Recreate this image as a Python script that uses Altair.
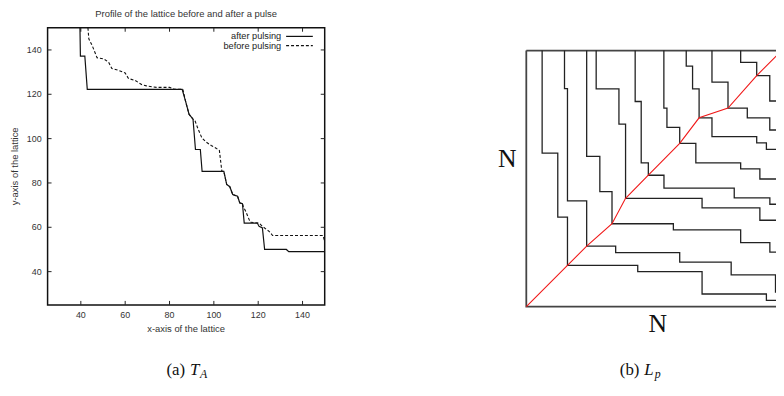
import altair as alt
import pandas as pd

# ---------------- Panel (a): profile of the lattice ----------------
after_x = [39.6, 39.8, 41.8, 42.9, 85.7, 87.2, 88.8, 90.6, 91.7, 93.9, 94.7, 104.5, 105.8,
           107.2, 108.5, 110.7, 111.7, 112.9, 113.7, 119.6, 120.4, 121.9, 122.9, 132.7, 133.8, 150]
after_y = [150, 137.2, 137.2, 122.2, 122.2, 117, 111, 108.8, 95.1, 95.1, 85.2, 85.2, 79.3,
           78.3, 74.8, 74, 71, 70.6, 61.9, 61.9, 60.4, 59.7, 50, 50, 49, 49]
before_x = [43.2, 43.6, 45.1, 46.6, 47.3, 50.3, 52.5, 54.0, 57.0, 60.0, 61.5, 64.4, 67.4, 69.6,
            74.1, 80.0, 82.3, 86.0, 87.2, 88.8, 90.6, 91.4, 92.9, 94.6, 96.6, 98.8, 101.0, 102.5,
            103.6, 104.5, 105.8, 107.2, 108.5, 110.7, 111.7, 112.9, 113.3, 114.4, 116.4, 120.4,
            121.9, 124.9, 126.5, 149.2, 150.0]
before_y = [150, 145, 142, 138.3, 136.5, 136, 134.5, 131.6, 130.8, 129.6, 127.1, 126.3, 124.4,
            123.8, 123.1, 123.1, 122.3, 122.3, 117, 111, 108.8, 108.3, 104.3, 100.3, 98.4, 96.9,
            95.7, 94.6, 85.3, 85.2, 79.3, 78.3, 74.8, 74, 71, 70.6, 69.3, 67.1, 62.3, 61.9, 60.4,
            58.2, 56.3, 56.3, 53.7]
tick_values_a = [40, 60, 80, 100, 120, 140]
domain_a = [25, 150]
title_a = "Profile of the lattice before and after a pulse"
xlabel_a = "x-axis of the lattice"
ylabel_a = "y-axis of the lattice"
legend_labels = ["after pulsing", "before pulsing"]

# ---------------- Panel (b): lattice paths L_p ----------------
path_1 = [(16, 258.7), (16, 155), (31.8, 155), (31.8, 90.4), (41.6, 90.4), (41.6, 41.7), (112.6, 41.7),
          (112.6, 35.4), (177.6, 35.4), (177.6, 12.7), (242.6, 12.7), (242.6, 6.2), (256, 6.2)]
path_2 = [(38.6, 258.7), (38.6, 220.2), (41.6, 220.2), (41.6, 106.7), (61, 106.7), (61, 61), (90.3, 61),
          (90.3, 54.4), (155, 54.4), (155, 45), (207, 45), (207, 32), (251.8, 32), (251.8, 14.7), (256, 14.7)]
path_3 = [(61, 258.7), (61, 151.7), (74.3, 151.7), (74.3, 116.2), (86.6, 116.2), (86.6, 83.7), (148.6, 83.7),
          (148.6, 77.4), (216.6, 77.4), (216.6, 64.7), (246.1, 64.7), (246.1, 55), (256, 55)]
path_4 = [(70.6, 258.7), (70.6, 220), (93.6, 220), (93.6, 184.4), (100.3, 184.4), (100.3, 109.4),
          (177.6, 109.4), (177.6, 99.7), (236, 99.7), (236, 87.2), (256, 87.2)]
path_5 = [(110, 258.7), (110, 207.2), (116.1, 207.2), (116.1, 145.2), (123.3, 145.2), (123.3, 132.7),
          (139.1, 132.7), (139.1, 119.7), (210.1, 119.7), (210.1, 109.9), (246.1, 109.9), (246.1, 103.4),
          (256, 103.4)]
path_6 = [(139, 258.7), (139, 200.5), (142.1, 200.5), (142.1, 181), (155, 181), (155, 165), (171.3, 165),
          (171.3, 145.2), (216.6, 145.2), (216.6, 139.2), (236, 139.2), (236, 128.9), (256, 128.9)]
path_7 = [(161.6, 258.7), (161.6, 243), (168, 243), (168, 220), (174.6, 220), (174.6, 190.7), (187.6, 190.7),
          (187.6, 171.7), (232.8, 171.7), (232.8, 165.5), (242.6, 165.5), (242.6, 158.9), (256, 158.9)]
path_8 = [(187.6, 258.7), (187.6, 226.7), (203.8, 226.7), (203.8, 200.5), (223.3, 200.5), (223.3, 190.7),
          (246, 190.7), (246, 178.4), (256, 178.4)]
path_9 = [(216.6, 258.7), (216.6, 246.7), (232.8, 246.7), (232.8, 233.4), (246, 233.4), (246, 207.7),
          (256, 207.7)]
frame_lb = [(0, 258.7), (0, 0), (256, 0)]
frame_top = [(0, 258.7), (256, 258.7)]
red_path = [(0, 0), (41.6, 41.7), (61, 61), (86.6, 83.7), (100.3, 109.4), (123.3, 132.7), (155, 165),
            (174.6, 190.7), (203.8, 200.5), (232.8, 233.4), (256, 256.6)]
domain_bu = [0, 252.3]
domain_bv = [0, 258.7]

W, H = 776, 380
SANS = "Liberation Sans"
SERIF = "Liberation Serif"

# ---------------- scales ----------------
xa = alt.Scale(domain=domain_a, range=[40, 320], nice=False, zero=False)
ya = alt.Scale(domain=domain_a, range=[298, 18], nice=False, zero=False)
xb = alt.Scale(domain=domain_bu, range=[523.7, 776], nice=False, zero=False)
yb = alt.Scale(domain=domain_bv, range=[299.7, 41], nice=False, zero=False)

df_after = pd.DataFrame({"x": after_x, "y": after_y, "i": range(len(after_x))})
df_before = pd.DataFrame({"x": before_x, "y": before_y, "i": range(len(before_x))})
df_ticks = pd.DataFrame({"t": tick_values_a})

after_line = alt.Chart(df_after).mark_line(color="#111", strokeWidth=1.2, clip=True).encode(
    x=alt.X("x:Q", scale=xa, axis=None),
    y=alt.Y("y:Q", scale=ya, axis=None),
    order="i:Q")
before_line = alt.Chart(df_before).mark_line(color="#111", strokeWidth=1.1, strokeDash=[3, 2], clip=True).encode(
    x=alt.X("x:Q", scale=xa, axis=None),
    y=alt.Y("y:Q", scale=ya, axis=None),
    order="i:Q")

# gnuplot-style inward, mirrored ticks
tick_style = dict(color="#222", strokeWidth=1)
ticks_bottom = alt.Chart(df_ticks).mark_rule(**tick_style).encode(
    x=alt.X("t:Q", scale=xa, axis=None), y=alt.value(298), y2=alt.value(294))
ticks_top = alt.Chart(df_ticks).mark_rule(**tick_style).encode(
    x=alt.X("t:Q", scale=xa, axis=None), y=alt.value(18), y2=alt.value(22))
ticks_left = alt.Chart(df_ticks).mark_rule(**tick_style).encode(
    y=alt.Y("t:Q", scale=ya, axis=None), x=alt.value(40), x2=alt.value(44))
ticks_right = alt.Chart(df_ticks).mark_rule(**tick_style).encode(
    y=alt.Y("t:Q", scale=ya, axis=None), x=alt.value(320), x2=alt.value(316))

# tick labels (through the same scales)
lab_style = dict(font=SANS, fontSize=9, color="#333")
ttl_style = dict(font=SANS, fontSize=9.5, color="#333")
labels_x = alt.Chart(df_ticks).mark_text(align="center", baseline="middle", **lab_style).encode(
    x=alt.X("t:Q", scale=xa, axis=None), y=alt.value(308), text="t:Q")
labels_y = alt.Chart(df_ticks).mark_text(align="right", baseline="middle", **lab_style).encode(
    y=alt.Y("t:Q", scale=ya, axis=None), x=alt.value(34), text="t:Q")

df_frame_a = pd.DataFrame({"x0": [domain_a[0]], "x1": [domain_a[1]], "y0": [domain_a[0]], "y1": [domain_a[1]]})
frame_a = alt.Chart(df_frame_a).mark_rect(fill="white", fillOpacity=0, stroke="#111", strokeWidth=1.5).encode(
    x=alt.X("x0:Q", scale=xa, axis=None), x2="x1:Q",
    y=alt.Y("y0:Q", scale=ya, axis=None), y2="y1:Q")

one = pd.DataFrame({"k": [0]})
title_mark = alt.Chart(one).mark_text(text=title_a, align="center", baseline="middle", **ttl_style).encode(
    x=alt.value(180), y=alt.value(4.5))
xtitle_mark = alt.Chart(one).mark_text(text=xlabel_a, align="center", baseline="middle", **ttl_style).encode(
    x=alt.value(180), y=alt.value(322))
ytitle_mark = alt.Chart(one).mark_text(text=ylabel_a, align="center", baseline="middle", angle=270,
                                       **ttl_style).encode(x=alt.value(7), y=alt.value(158))
leg_text_1 = alt.Chart(one).mark_text(text=legend_labels[0], font=SANS, fontSize=9.3, color="#222",
                                      align="right", baseline="middle").encode(x=alt.value(276), y=alt.value(26.7))
leg_text_2 = alt.Chart(one).mark_text(text=legend_labels[1], font=SANS, fontSize=9.3, color="#222",
                                      align="right", baseline="middle").encode(x=alt.value(276), y=alt.value(36))
leg_line_1 = alt.Chart(one).mark_rule(color="#111", strokeWidth=1.2).encode(
    x=alt.value(281), x2=alt.value(308), y=alt.value(26.7))
leg_line_2 = alt.Chart(one).mark_rule(color="#111", strokeWidth=1.1, strokeDash=[3, 2]).encode(
    x=alt.value(281), x2=alt.value(308), y=alt.value(36))

panel_a = alt.layer(frame_a, ticks_bottom, ticks_top, ticks_left, ticks_right, labels_x, labels_y,
                    before_line, after_line, title_mark, xtitle_mark, ytitle_mark,
                    leg_text_1, leg_text_2, leg_line_1, leg_line_2)

# ---------------- panel (b) ----------------
def to_df(pts, name):
    return pd.DataFrame({"u": [p[0] for p in pts], "v": [p[1] for p in pts],
                         "i": range(len(pts)), "path": name})

paths = [path_1, path_2, path_3, path_4, path_5, path_6, path_7, path_8, path_9]
df_paths = pd.concat([to_df(p, f"p{k}") for k, p in enumerate(paths)], ignore_index=True)
df_frame_b = pd.concat([to_df(frame_lb, "lb"), to_df(frame_top, "top")], ignore_index=True)
df_red = to_df(red_path, "red")

frame_b = alt.Chart(df_frame_b).mark_line(color="#444", strokeWidth=1.8, clip=True).encode(
    x=alt.X("u:Q", scale=xb, axis=None), y=alt.Y("v:Q", scale=yb, axis=None),
    detail="path:N", order="i:Q")
paths_b = alt.Chart(df_paths).mark_line(color="#222", strokeWidth=1.3, clip=True).encode(
    x=alt.X("u:Q", scale=xb, axis=None), y=alt.Y("v:Q", scale=yb, axis=None),
    detail="path:N", order="i:Q")
red_b = alt.Chart(df_red).mark_line(color="#f01818", strokeWidth=1.1, clip=True).encode(
    x=alt.X("u:Q", scale=xb, axis=None), y=alt.Y("v:Q", scale=yb, axis=None), order="i:Q")

n_left = alt.Chart(one).mark_text(text="N", font=SERIF, fontSize=26, color="#111",
                                  align="center", baseline="middle").encode(x=alt.value(504.5), y=alt.value(151))
n_bottom = alt.Chart(one).mark_text(text="N", font=SERIF, fontSize=26, color="#111",
                                    align="center", baseline="middle").encode(x=alt.value(656.5), y=alt.value(317))

cap_style = dict(font=SERIF, fontSize=17, color="#111", baseline="alphabetic")
sub_style = dict(font=SERIF, fontSize=12, color="#111", baseline="alphabetic", fontStyle="italic", align="left")
cap_a1 = alt.Chart(one).mark_text(text="(a)", align="right", **cap_style).encode(x=alt.value(179), y=alt.value(369))
cap_a2 = alt.Chart(one).mark_text(text="T", align="left", fontStyle="italic", **cap_style).encode(x=alt.value(184), y=alt.value(369))
cap_a3 = alt.Chart(one).mark_text(text="A", **sub_style).encode(x=alt.value(194), y=alt.value(372))
cap_b1 = alt.Chart(one).mark_text(text="(b)", align="right", **cap_style).encode(x=alt.value(638), y=alt.value(369))
cap_b2 = alt.Chart(one).mark_text(text="L", align="left", fontStyle="italic", **cap_style).encode(x=alt.value(643), y=alt.value(369))
cap_b3 = alt.Chart(one).mark_text(text="p", **sub_style).encode(x=alt.value(653.5), y=alt.value(372))

panel_b = alt.layer(frame_b, paths_b, red_b, n_left, n_bottom,
                    cap_a1, cap_a2, cap_a3, cap_b1, cap_b2, cap_b3)

chart = alt.layer(panel_a, panel_b).resolve_scale(x="independent", y="independent").properties(
    width=W, height=H, padding=0, autosize=alt.AutoSizeParams(type="none"),
    background="white").configure_view(strokeWidth=0)

chart.save("out.html", embed_options={"renderer": "svg", "actions": False})
